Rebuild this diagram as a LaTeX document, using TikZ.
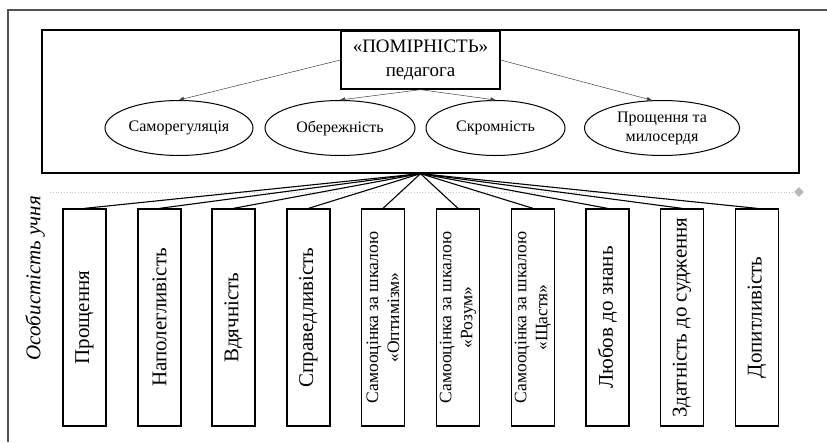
\documentclass[tikz,border=0pt]{standalone}
\usepackage{fontspec}
\setmainfont{Liberation Serif}
\usetikzlibrary{arrows.meta,shapes.geometric}

\begin{document}
\begin{tikzpicture}[x=1pt,y=-1pt,
  pageframe/.style={draw=black!68,line width=2.6pt},
  panel/.style={draw,line width=1.3pt,minimum width=757pt,minimum height=143pt,inner sep=0pt},
  titlebox/.style={draw,line width=1.3pt,fill=white,minimum width=159pt,minimum height=58pt,
    inner sep=0pt,align=center,font=\fontsize{19}{24}\selectfont},
  trait/.style={ellipse,draw,line width=1pt,minimum height=55pt,inner sep=0pt,align=center,
    font=\fontsize{16}{19}\selectfont},
  feature/.style={draw,line width=1.3pt,rotate=90,minimum width=217pt,minimum height=43pt,
    inner sep=0pt,align=center,font=\fontsize{21}{25}\selectfont},
  smalltext/.style={font=\fontsize{17.5}{21}\selectfont},
  link/.style={draw=black!75,line width=0.5pt,-{Triangle[length=5pt,width=4pt]}},
  spoke/.style={draw,line width=1.1pt},
  guide/.style={draw=black!22,line width=0.8pt,dotted},
  sidelabel/.style={rotate=90,font=\fontsize{21}{25}\selectfont\itshape}
]
\useasboundingbox (0,0) rectangle (827,442);

% page border (top and left edges)
\coordinate (fa) at (8,442);
\coordinate (fb) at (8,10);
\coordinate (fc) at (827,10);
\draw[pageframe] (fa) -- (fb) -- (fc);

% upper panel with the teacher's quality and its components
\node[panel] (panel) at (420.5,101.5) {};
\node[titlebox] (tb) at (420.5,60) {«ПОМІРНІСТЬ»\\педагога};

\node[trait,minimum width=148pt] (e1) at (179,128) {Саморегуляція};
\node[trait,minimum width=150pt] (e2) at (340,128) {Обережність};
\node[trait,minimum width=139pt] (e3) at (495.5,128) {Скромність};
\node[trait,minimum width=155pt] (e4) at (662,128) {Прощення та\\милосердя};

\draw[link] (tb.west) -- (e1.north);
\draw[link] (tb.south) -- (e2.north);
\draw[link] (tb.south) -- (e3.north);
\draw[link] (tb.east) -- (e4.110);

% dotted separator
\coordinate (gl) at (50,192);
\node[diamond,fill=black!28,minimum size=10pt,inner sep=0pt] (gd) at (799,192) {};
\draw[guide] (gl) -- (gd.west);

% side caption
\node[sidelabel] (side) at (35,278) {Особистість учня};

% student's personality traits
\node[feature] (r1)  at (84.5,317.5)  {Прощення};
\node[feature] (r2)  at (159.5,317.5) {Наполегливість};
\node[feature] (r3)  at (233.5,317.5) {Вдячність};
\node[feature] (r4)  at (308.5,317.5) {Справедливість};
\node[feature,smalltext] (r5)  at (383,317.5)   {Самооцінка за шкалою\\«Оптимізм»};
\node[feature,smalltext] (r6)  at (458,317.5)   {Самооцінка за шкалою\\«Розум»};
\node[feature,smalltext] (r7)  at (533,317.5)   {Самооцінка за шкалою\\«Щастя»};
\node[feature] (r8)  at (607.5,317.5) {Любов до знань};
\node[feature] (r9)  at (682,317.5)   {Здатність до судження};
\node[feature] (r10) at (757,317.5)   {Допитливість};

\foreach \i in {1,...,10}
  \draw[spoke] (panel.south) -- (r\i.east);
\end{tikzpicture}
\end{document}
